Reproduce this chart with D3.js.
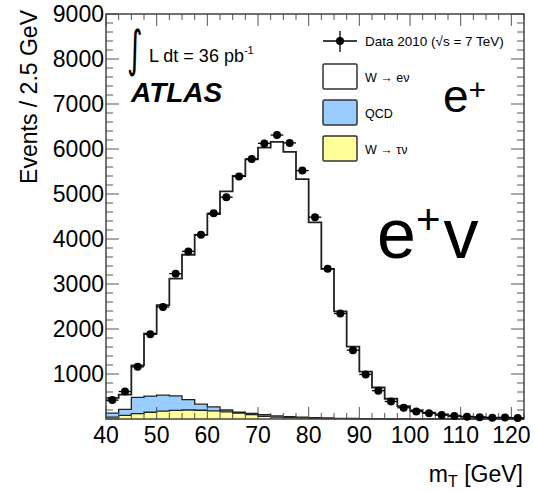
<!DOCTYPE html>
<html>
<head>
<meta charset="utf-8">
<script src="https://cdn.jsdelivr.net/npm/d3@7"></script>
<style>
body { margin: 0; background: #fff; }
svg text { font-family: "Liberation Sans", Arial, Helvetica, sans-serif; fill: #000; }
</style>
</head>
<body>
<div id="chart"></div>
<script>
// bin centres (2.5 GeV bins) and the values
var binCenters = [41.25,43.75,46.25,48.75,51.25,53.75,56.25,58.75,61.25,63.75,66.25,68.75,71.25,73.75,76.25,78.75,81.25,83.75,86.25,88.75,91.25,93.75,96.25,98.75,101.25,103.75,106.25,108.75,111.25,113.75,116.25,118.75,121.25];
var dataEvents = [420,610,1160,1885,2490,3230,3725,4095,4575,4930,5390,5780,6125,6310,6135,5520,4485,3340,2345,1530,990,630,390,250,165,130,90,65,50,40,30,35,20];
var wTauNu = [40,80,120,150,175,190,200,195,180,160,130,100,60,40,30,20,15,10,8,6,5,4,3,2,2,1,1,1,1,1,1,1,1];
var qcd = [90,135,360,360,355,325,230,135,90,40,20,25,35,30,25,20,15,12,8,6,4,3,2,2,1,1,1,0,0,0,0,0,0];
var wENu = [340,325,710,1385,2000,2605,3220,3760,4285,4860,5250,5645,5935,6090,5880,5290,4340,3313,2374,1598,1046,693,445,281,192,138,98,74,54,39,29,24,19];
var xTicks = [40,50,60,70,80,90,100,110,120];
var yTicks = [1000,2000,3000,4000,5000,6000,7000,8000,9000];
var binWidth = 2.5;

var svgWidth = 535, svgHeight = 491;
var plotLeft = 106, plotRight = 524, plotTop = 14, plotBottom = 419;

var xScale = d3.scaleLinear().domain([40, 122.5]).range([plotLeft, plotRight]);
var yScale = d3.scaleLinear().domain([0, 9000]).range([plotBottom, plotTop]);

var svg = d3.select("#chart").append("svg")
    .attr("width", svgWidth)
    .attr("height", svgHeight);

// stacked MC: tau at bottom, then QCD, then W->enu
var rows = binCenters.map(function(c, i) {
    return {lo: c - binWidth / 2, tau: wTauNu[i], qcd: qcd[i], enu: wENu[i]};
});
var last = rows[rows.length - 1];
rows.push({lo: last.lo + binWidth, tau: last.tau, qcd: last.qcd, enu: last.enu});

var stack = d3.stack().keys(["tau", "qcd", "enu"]);
var layers = stack(rows);
var layerColor = {tau: "#ffff99", qcd: "#99ccff", enu: "#ffffff"};

var area = d3.area()
    .curve(d3.curveStepAfter)
    .x(function(d) { return xScale(d.data.lo); })
    .y0(function(d) { return yScale(d[0]); })
    .y1(function(d) { return yScale(d[1]); });

var topLine = d3.line()
    .curve(d3.curveStepAfter)
    .x(function(d) { return xScale(d.data.lo); })
    .y(function(d) { return yScale(d[1]); });

svg.selectAll(".layer")
    .data(layers)
  .enter().append("path")
    .attr("class", "layer")
    .attr("d", area)
    .style("fill", function(d) { return layerColor[d.key]; })
    .style("stroke", "none");

svg.selectAll(".layerTop")
    .data(layers)
  .enter().append("path")
    .attr("class", "layerTop")
    .attr("d", topLine)
    .style("fill", "none")
    .style("stroke", "#222")
    .style("stroke-width", function(d) { return d.key == "enu" ? 1.8 : 1.3; });

// axis ticks, drawn inward on all four sides
var xMinor = d3.range(40, 122.6, 2.5);
var yMinor = d3.range(0, 9001, 200);
var tickG = svg.append("g").style("stroke", "#555").style("stroke-width", 1);

xMinor.forEach(function(v) {
    var major = xTicks.indexOf(v) >= 0;
    var len = major ? 12 : 6;
    tickG.append("line").attr("x1", xScale(v)).attr("x2", xScale(v))
        .attr("y1", plotBottom).attr("y2", plotBottom - len);
    tickG.append("line").attr("x1", xScale(v)).attr("x2", xScale(v))
        .attr("y1", plotTop).attr("y2", plotTop + len);
});
yMinor.forEach(function(v) {
    var major = v % 1000 == 0;
    var len = major ? 13 : 7;
    tickG.append("line").attr("x1", plotLeft).attr("x2", plotLeft + len)
        .attr("y1", yScale(v)).attr("y2", yScale(v));
    tickG.append("line").attr("x1", plotRight).attr("x2", plotRight - len)
        .attr("y1", yScale(v)).attr("y2", yScale(v));
});

svg.append("rect")
    .attr("x", plotLeft).attr("y", plotTop)
    .attr("width", plotRight - plotLeft).attr("height", plotBottom - plotTop)
    .style("fill", "none").style("stroke", "#444").style("stroke-width", 1.5);

// tick labels
svg.selectAll(".xlab")
    .data(xTicks)
  .enter().append("text")
    .attr("class", "xlab")
    .attr("x", function(d) { return xScale(d); })
    .attr("y", 443)
    .style("text-anchor", "middle")
    .style("font-size", "23px")
    .text(function(d) { return d; });

svg.selectAll(".ylab")
    .data(yTicks)
  .enter().append("text")
    .attr("class", "ylab")
    .attr("x", 104)
    .attr("y", function(d) { return yScale(d); })
    .attr("dy", "0.36em")
    .style("text-anchor", "end")
    .style("font-size", "23px")
    .text(function(d) { return d; });

// axis titles
svg.append("text")
    .attr("transform", "translate(37,10) rotate(-90)")
    .style("text-anchor", "end")
    .style("font-size", "23px")
    .text("Events / 2.5 GeV");

var xTitle = svg.append("text")
    .attr("x", 523).attr("y", 482)
    .style("text-anchor", "end")
    .style("font-size", "23px");
xTitle.append("tspan").text("m");
xTitle.append("tspan").attr("dy", 5).style("font-size", "16px").text("T");
xTitle.append("tspan").attr("dy", -5).text(" [GeV]");

// data points with error bars
var pts = svg.selectAll(".dot")
    .data(binCenters.map(function(c, i) { return {x: c, y: dataEvents[i]}; }))
  .enter().append("g")
    .attr("class", "dot");
pts.append("line")
    .attr("x1", function(d) { return xScale(d.x - binWidth / 2); })
    .attr("x2", function(d) { return xScale(d.x + binWidth / 2); })
    .attr("y1", function(d) { return yScale(d.y); })
    .attr("y2", function(d) { return yScale(d.y); })
    .style("stroke", "#000").style("stroke-width", 1.3);
pts.append("line")
    .attr("x1", function(d) { return xScale(d.x); })
    .attr("x2", function(d) { return xScale(d.x); })
    .attr("y1", function(d) { return yScale(d.y + Math.sqrt(d.y)); })
    .attr("y2", function(d) { return yScale(Math.max(0, d.y - Math.sqrt(d.y))); })
    .style("stroke", "#000").style("stroke-width", 1.3);
pts.append("circle")
    .attr("cx", function(d) { return xScale(d.x); })
    .attr("cy", function(d) { return yScale(d.y); })
    .attr("r", 4)
    .style("fill", "#000");

// luminosity and ATLAS label
svg.append("text")
    .attr("x", 127).attr("y", 66)
    .attr("transform", "translate(127,66) scale(0.75,1.25) translate(-127,-66)")
    .style("font-family", "DejaVu Sans")
    .style("font-size", "40px")
    .text("\u222B");
var lumi = svg.append("text")
    .attr("x", 149).attr("y", 62)
    .style("font-size", "18px");
lumi.append("tspan").text("L dt = 36 pb");
lumi.append("tspan").attr("dy", -8).style("font-size", "11px").text("-1");

svg.append("text")
    .attr("x", 131).attr("y", 102)
    .style("font-size", "28px")
    .style("font-weight", "bold")
    .style("font-style", "italic")
    .text("ATLAS");

// legend
var legX = 323, legW = 34;
svg.append("line").attr("x1", legX).attr("x2", legX + legW).attr("y1", 41).attr("y2", 41)
    .style("stroke", "#000").style("stroke-width", 1.3);
svg.append("line").attr("x1", legX + legW / 2).attr("x2", legX + legW / 2).attr("y1", 31).attr("y2", 52)
    .style("stroke", "#000").style("stroke-width", 1.3);
svg.append("circle").attr("cx", legX + legW / 2).attr("cy", 41).attr("r", 4).style("fill", "#000");
svg.append("text").attr("x", 365).attr("y", 46).style("font-size", "13.5px")
    .text("Data 2010 (\u221As = 7 TeV)");

var legendItems = [
    {label: "W \u2192 e\u03BD", color: layerColor.enu, y: 64},
    {label: "QCD", color: layerColor.qcd, y: 100},
    {label: "W \u2192 \u03C4\u03BD", color: layerColor.tau, y: 136}
];
var leg = svg.selectAll(".legend")
    .data(legendItems)
  .enter().append("g")
    .attr("class", "legend");
leg.append("rect")
    .attr("x", legX).attr("y", function(d) { return d.y; })
    .attr("width", legW).attr("height", 25)
    .attr("rx", 1.5)
    .style("fill", function(d) { return d.color; })
    .style("stroke", "#333").style("stroke-width", 1.5);
leg.append("text")
    .attr("x", 365).attr("y", function(d) { return d.y + 18; })
    .style("font-size", "12.5px")
    .text(function(d) { return d.label; });

// charge labels
var eSmall = svg.append("text").attr("x", 443).attr("y", 112).style("font-size", "46px");
eSmall.append("tspan").text("e");
eSmall.append("tspan").attr("dy", -12).style("font-size", "30px").text("+");

var eBig = svg.append("text").attr("x", 377).attr("y", 258).style("font-size", "70px");
eBig.append("tspan").text("e");
eBig.append("tspan").attr("dy", -24).style("font-size", "42px").text("+");
eBig.append("tspan").attr("dy", 24).attr("dx", 3).text("v");
</script>
</body>
</html>
